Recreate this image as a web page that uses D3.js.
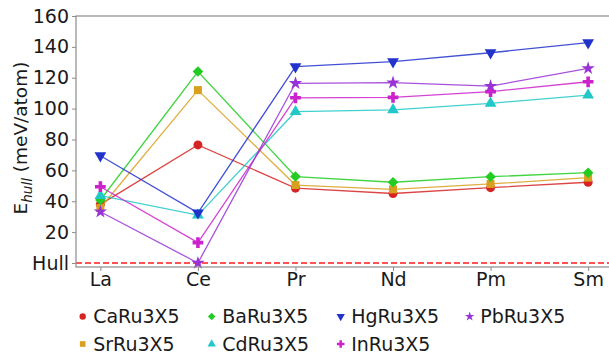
<!DOCTYPE html>
<html>
<head>
<meta charset="utf-8">
<script src="https://cdn.jsdelivr.net/npm/d3@7"></script>
<style>
  body { margin: 0; background: #fff; }
  text { font-family: "DejaVu Sans", sans-serif; fill: #1a1a1a; }
</style>
</head>
<body>
<script>
// Data.
var elements = ["La", "Ce", "Pr", "Nd", "Pm", "Sm"];
var yTicks = [0, 20, 40, 60, 80, 100, 120, 140, 160];

var caRu3X5 = [38, 76.5, 48.5, 45, 48.8, 52.3];
var srRu3X5 = [35.6, 112, 50.5, 47.7, 51.2, 55.3];
var baRu3X5 = [40.8, 124, 56, 52.3, 55.9, 58.5];
var cdRu3X5 = [43.6, 31, 98, 99.2, 103.4, 108.8];
var hgRu3X5 = [69.5, 32.5, 127.2, 130.4, 136.2, 142.7];
var inRu3X5 = [49.4, 13.2, 107, 107.3, 111, 117.4];
var pbRu3X5 = [33.2, 0, 116.4, 116.8, 114.6, 126.1];

// Series list (plot order = legend column order).
var series = [
    {name: "CaRu3X5", values: caRu3X5, color: "#d62424", symbol: d3.symbolCircle, size: 64, rot: 0},
    {name: "SrRu3X5", values: srRu3X5, color: "#d9a020", symbol: d3.symbolSquare, size: 64, rot: 0},
    {name: "BaRu3X5", values: baRu3X5, color: "#22cc22", symbol: d3.symbolSquare, size: 56, rot: 45},
    {name: "CdRu3X5", values: cdRu3X5, color: "#22c8c8", symbol: d3.symbolTriangle, size: 60, rot: 0},
    {name: "HgRu3X5", values: hgRu3X5, color: "#2233cc", symbol: d3.symbolTriangle, size: 60, rot: 180},
    {name: "InRu3X5", values: inRu3X5, color: "#cc22cc", symbol: d3.symbolCross, size: 64, rot: 0},
    {name: "PbRu3X5", values: pbRu3X5, color: "#9933d6", symbol: d3.symbolStar, size: 56, rot: 0}
];

var width = 609, height = 354;
var plotLeft = 76, plotTop = 16, plotRight = 612.5, plotBottom = 267;

var svg = d3.select("body").append("svg")
        .attr("width", width)
        .attr("height", height);

var x = d3.scalePoint()
        .domain(elements)
        .range([plotLeft, plotRight])
        .padding(0.25);
var y = d3.scaleLinear()
        .domain([-2.6, 160])
        .range([plotBottom, plotTop]);

// Hull reference line.
svg.append("line")
        .attr("x1", plotLeft).attr("x2", width)
        .attr("y1", y(0)).attr("y2", y(0))
        .attr("stroke", "#ff1a1a")
        .attr("stroke-width", 1.6)
        .attr("stroke-dasharray", "6,3");

// Lines and markers.
var line = d3.line()
        .x(function(d, i) { return x(elements[i]); })
        .y(function(d) { return y(d); });

series.forEach(function(s) {
    svg.append("path")
            .attr("d", line(s.values))
            .attr("fill", "none")
            .attr("stroke", s.color)
            .attr("stroke-opacity", 0.85)
            .attr("stroke-width", 1.3);
    svg.selectAll(null)
            .data(s.values)
            .enter().append("path")
            .attr("d", d3.symbol().type(s.symbol).size(s.size))
            .attr("transform", function(d, i) {
                return "translate(" + x(elements[i]) + "," + y(d) + ") rotate(" + s.rot + ")";
            })
            .attr("fill", s.color);
});

// Frame.
var spine = "#8c8c8c";
svg.append("rect")
        .attr("x", plotLeft).attr("y", plotTop)
        .attr("width", plotRight - plotLeft).attr("height", plotBottom - plotTop)
        .attr("fill", "none")
        .attr("stroke", spine)
        .attr("stroke-width", 1.2);

// Y axis.
var yAxis = svg.append("g")
        .attr("transform", "translate(" + plotLeft + ",0)")
        .call(d3.axisLeft(y).tickValues(yTicks).tickSize(4).tickPadding(3)
            .tickFormat(function(d) { return d === 0 ? "Hull" : d; }));
yAxis.select(".domain").remove();
yAxis.selectAll("line").attr("stroke", spine);
yAxis.selectAll("text").style("font-size", "19px").attr("fill", "#1a1a1a");

// X axis.
var xAxis = svg.append("g")
        .attr("transform", "translate(0," + plotBottom + ")")
        .call(d3.axisBottom(x).tickSize(4).tickPadding(2));
xAxis.select(".domain").remove();
xAxis.selectAll("line").attr("stroke", spine);
xAxis.selectAll("text").style("font-size", "19px").attr("fill", "#1a1a1a");

// Y label.
var ylab = svg.append("text")
        .attr("transform", "translate(27,138) rotate(-90)")
        .attr("text-anchor", "middle")
        .style("font-size", "18.5px");
ylab.append("tspan").text("E");
ylab.append("tspan").text("hull").style("font-size", "13.5px").style("font-style", "italic").attr("dy", 5);
ylab.append("tspan").text(" (meV/atom)").attr("dy", -5);

// Legend (4 columns, filled column-first).
var legend = svg.append("g");
series.forEach(function(s, i) {
    var col = Math.floor(i / 2), row = i % 2;
    var lx = 82.7 + col * 129, ly = 316.5 + row * 27.5;
    var g = legend.append("g").attr("transform", "translate(" + lx + "," + ly + ")");
    g.append("path")
            .attr("d", d3.symbol().type(s.symbol).size(s.size * 0.5))
            .attr("transform", "rotate(" + s.rot + ")")
            .attr("fill", s.color);
    g.append("text")
            .attr("x", 10.5)
            .attr("dy", "0.35em")
            .style("font-size", "19px")
            .text(s.name);
});
</script>
</body>
</html>
